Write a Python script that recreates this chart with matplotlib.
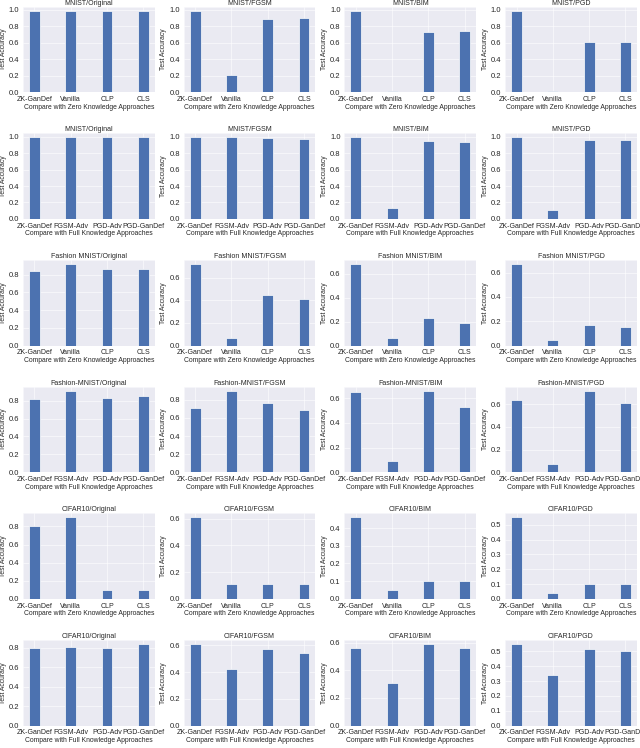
import numpy as np
import matplotlib
matplotlib.use('Agg')
import matplotlib.pyplot as plt
from matplotlib.ticker import MaxNLocator
import seaborn as sns

sns.set_style('darkgrid')
plt.rcParams['font.family'] = ['Liberation Sans', 'DejaVu Sans']

zero_methods = ['ZK-GanDef', 'Vanilla', 'CLP', 'CLS']
full_methods = ['ZK-GanDef', 'FGSM-Adv', 'PGD-Adv', 'PGD-GanDef']
attacks = ['Original', 'FGSM', 'BIM', 'PGD']

# 各列資料集名稱
row_names = ['MNIST', 'MNIST', 'Fashion MNIST', 'Fashion-MNIST', 'CIFAR10', 'CIFAR10']
row_full = [False, True, False, True, False, True]

# MNIST 零知識
mnist_zero_original = [0.99, 0.99, 0.99, 0.99]
mnist_zero_fgsm = [0.99, 0.21, 0.89, 0.90]
mnist_zero_bim = [0.99, 0.01, 0.73, 0.74]
mnist_zero_pgd = [0.99, 0.01, 0.61, 0.61]

# MNIST 全知識
mnist_full_original = [0.99, 0.99, 0.99, 0.99]
mnist_full_fgsm = [0.99, 0.99, 0.98, 0.97]
mnist_full_bim = [0.99, 0.13, 0.95, 0.94]
mnist_full_pgd = [0.99, 0.11, 0.96, 0.96]

# Fashion 零知識
fashion_zero_original = [0.84, 0.92, 0.86, 0.87]
fashion_zero_fgsm = [0.72, 0.07, 0.45, 0.41]
fashion_zero_bim = [0.68, 0.06, 0.23, 0.19]
fashion_zero_pgd = [0.67, 0.05, 0.17, 0.15]

# Fashion 全知識
fashion_full_original = [0.82, 0.91, 0.83, 0.85]
fashion_full_fgsm = [0.71, 0.90, 0.77, 0.69]
fashion_full_bim = [0.65, 0.09, 0.66, 0.53]
fashion_full_pgd = [0.64, 0.07, 0.72, 0.61]

# CIFAR10 零知識
cifar_zero_original = [0.80, 0.90, 0.10, 0.10]
cifar_zero_fgsm = [0.61, 0.11, 0.11, 0.11]
cifar_zero_bim = [0.46, 0.05, 0.10, 0.10]
cifar_zero_pgd = [0.55, 0.04, 0.10, 0.10]

# CIFAR10 全知識
cifar_full_original = [0.80, 0.81, 0.80, 0.84]
cifar_full_fgsm = [0.61, 0.42, 0.57, 0.54]
cifar_full_bim = [0.56, 0.31, 0.59, 0.56]
cifar_full_pgd = [0.55, 0.34, 0.52, 0.50]

all_values = [
    [mnist_zero_original, mnist_zero_fgsm, mnist_zero_bim, mnist_zero_pgd],
    [mnist_full_original, mnist_full_fgsm, mnist_full_bim, mnist_full_pgd],
    [fashion_zero_original, fashion_zero_fgsm, fashion_zero_bim, fashion_zero_pgd],
    [fashion_full_original, fashion_full_fgsm, fashion_full_bim, fashion_full_pgd],
    [cifar_zero_original, cifar_zero_fgsm, cifar_zero_bim, cifar_zero_pgd],
    [cifar_full_original, cifar_full_fgsm, cifar_full_bim, cifar_full_pgd],
]

# 放大畫布再用低 dpi 輸出, 字才會跟原圖一樣小
fig, axes = plt.subplots(6, 4, figsize=(12.8, 14.96), dpi=50)

for r in range(6):
    methods = full_methods if row_full[r] else zero_methods
    xlabel = 'Compare with Full Knowledge Approaches' if row_full[r] else 'Compare with Zero Knowledge Approaches'
    for c in range(4):
        ax = axes[r, c]
        x = np.arange(len(methods))
        ax.bar(x, all_values[r][c], width=0.3, color='#4c72b0', edgecolor='white', linewidth=1)
        ax.set_xticks(x)
        ax.set_xticklabels(methods, fontsize=10)
        ax.yaxis.set_major_locator(MaxNLocator(nbins=6, steps=[1, 2, 2.5, 5, 10]))
        ax.tick_params(axis='y', labelsize=11, pad=2)
        ax.tick_params(axis='x', pad=2)
        ax.set_title(f'{row_names[r]}/{attacks[c]}', fontsize=10, pad=3)
        ax.set_xlabel(xlabel, fontsize=9.8, labelpad=1)
        ax.set_ylabel('Test Accuracy', fontsize=9.8, labelpad=3)

plt.subplots_adjust(left=0.036, right=0.995, top=0.991, bottom=0.03, wspace=0.22, hspace=0.48)
plt.savefig('out.png', dpi=50)
